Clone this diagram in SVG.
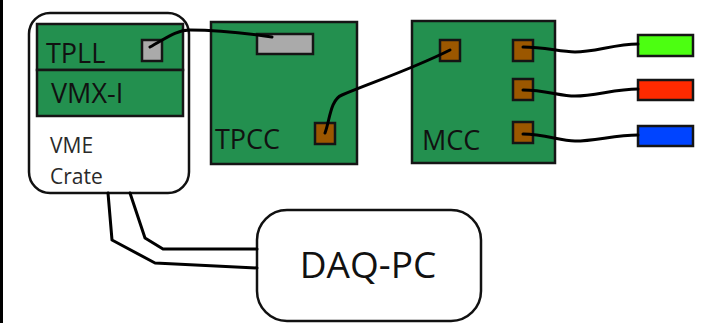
<svg xmlns="http://www.w3.org/2000/svg" width="706" height="323" viewBox="0 0 706 323">
<style>
.board{fill:#23904f;stroke:#151515;stroke-width:2.5}
.port{fill:#9b5700;stroke:#151515;stroke-width:2.5}
.gport{fill:#aaaaaa;stroke:#151515;stroke-width:2.5}
.box{fill:#ffffff;stroke:#111111;stroke-width:2.5}
.wire{fill:none;stroke:#000000;stroke-width:3;stroke-linejoin:round;stroke-linecap:round}
.lbl{font-family:"Open Sans","DejaVu Sans",sans-serif;fill:#111111}
.big{font-size:27px}
.small{font-size:21px;fill:#2a2a2a}
</style>
<rect x="0" y="0" width="706" height="323" fill="#ffffff"/>
<line x1="1.5" y1="0" x2="1.5" y2="323" stroke="#000" stroke-width="3"/>
<g id="vme-crate">
<rect class="box" x="29" y="13" width="160" height="180" rx="21" ry="21"/>
<text class="lbl small" x="50" y="153">VME</text>
<text class="lbl small" x="50" y="184">Crate</text>
</g>
<g id="tpll">
<rect class="board" x="37" y="24" width="146" height="46"/>
<text class="lbl big" x="46" y="63">TPLL</text>
<rect class="gport" x="142" y="40" width="20" height="21"/>
</g>
<g id="vmx-i">
<rect class="board" x="37" y="70" width="146" height="46"/>
<text class="lbl big" x="51" y="103">VMX-I</text>
</g>
<g id="tpcc">
<rect class="board" x="211" y="22" width="146" height="142"/>
<rect class="gport" x="257" y="34" width="56" height="20"/>
<rect class="port" x="315" y="123" width="20" height="21"/>
<text class="lbl big" x="215" y="149">TPCC</text>
</g>
<g id="mcc">
<rect class="board" x="412" y="21" width="143" height="142"/>
<rect class="port" x="440" y="40" width="20" height="21"/>
<rect class="port" x="513" y="40" width="20" height="21"/>
<rect class="port" x="513" y="79" width="20" height="21"/>
<rect class="port" x="513" y="122" width="20" height="21"/>
<text class="lbl big" x="422" y="150">MCC</text>
</g>
<g id="green-out"><rect x="638" y="35" width="55" height="21" fill="#4cff11" stroke="#151515" stroke-width="2.5"/></g>
<g id="red-out"><rect x="638" y="80" width="55" height="20" fill="#ff2a00" stroke="#151515" stroke-width="2.5"/></g>
<g id="blue-out"><rect x="638" y="126" width="55" height="20" fill="#0044ff" stroke="#151515" stroke-width="2.5"/></g>
<g id="daq-pc">
<rect class="box" x="257" y="210" width="224" height="111" rx="30" ry="30"/>
<text class="lbl" x="368" y="278" font-size="37" text-anchor="middle">DAQ-PC</text>
</g>
<g id="connectors">
<path class="wire" d="M150,47 C165,39 176,30 190,30 C215,30 245,33 272,37"/>
<path class="wire" d="M325,133 C330,120 330,100 342,95 C370,83 410,70 450,50"/>
<path class="wire" d="M523,47 C545,47 560,52 575,52 C595,52 615,44 638,44"/>
<path class="wire" d="M523,90 C545,90 560,96 575,96 C595,96 615,89 638,89"/>
<path class="wire" d="M523,134 C545,134 560,141 575,141 C595,141 615,135 638,135"/>
<path class="wire" d="M108,193 L112,240 L155,263 L257,268"/>
<path class="wire" d="M130,193 L145,238 L163,249 L257,249"/>
</g>
</svg>
